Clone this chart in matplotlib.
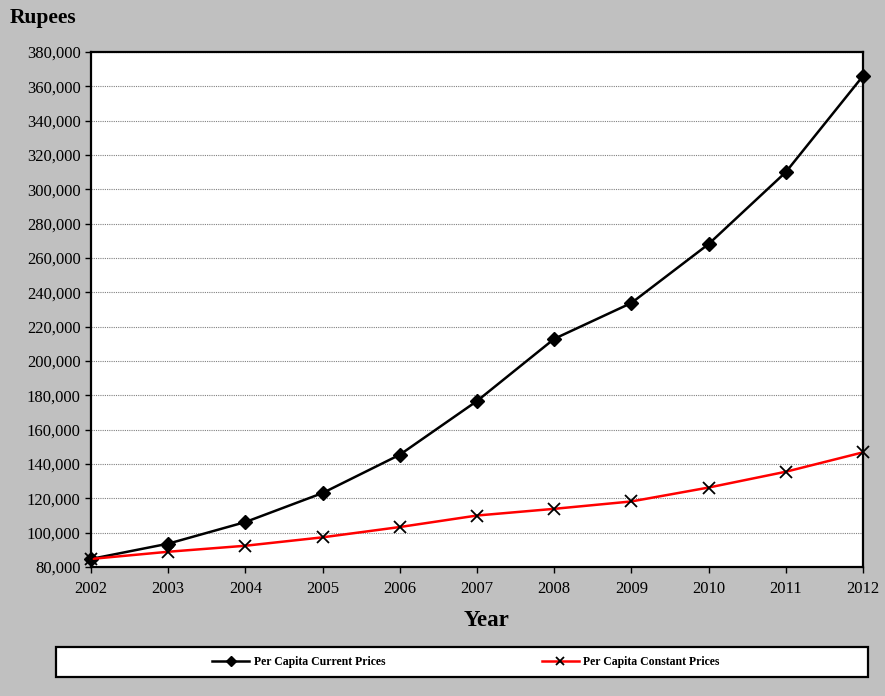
import matplotlib
matplotlib.use('Agg')
import matplotlib.pyplot as plt
from matplotlib.patches import Rectangle
from matplotlib.ticker import FuncFormatter

years = [2002, 2003, 2004, 2005, 2006, 2007, 2008, 2009, 2010, 2011, 2012]
current_prices = [84700, 93600, 106200, 123100, 145400, 176700, 212900, 233800, 268100, 310000, 366000]
constant_prices = [84700, 88900, 92400, 97300, 103300, 110000, 113900, 118200, 126300, 135500, 146800]

plt.rcParams['font.family'] = ['Liberation Serif', 'DejaVu Serif']

bg = '#c0c0c0'
fig = plt.figure(figsize=(8.85, 6.96), dpi=100, facecolor=bg)
ax = fig.add_axes([0.1028, 0.1853, 0.8723, 0.74])
ax.set_facecolor('white')

ax.plot(years, current_prices, color='black', lw=1.8, marker='D', markersize=7,
        markerfacecolor='black', markeredgecolor='black', label='Per Capita Current Prices',
        zorder=3, clip_on=False)
ax.plot(years, constant_prices, color='red', lw=1.8, marker='x', markersize=9,
        markeredgecolor='black', markeredgewidth=1.3, label='Per Capita Constant Prices',
        zorder=3, clip_on=False)

ax.set_xlim(2002, 2012)
ax.set_ylim(80000, 380000)
ax.set_xticks(years)
ax.set_yticks(range(80000, 380001, 20000))
ax.yaxis.set_major_formatter(FuncFormatter(lambda v, p: f"{int(v):,}"))
ax.tick_params(axis='both', labelsize=12, direction='out', length=4, width=1, color='black')
ax.tick_params(axis='x', pad=6)
ax.grid(axis='y', color='#808080', linestyle=(0, (1, 1)), lw=0.8)
for s in ax.spines.values():
    s.set_linewidth(1.6)
    s.set_color('black')

fig.text(10 / 885, 1 - 18 / 696, 'Rupees', fontsize=15.5, fontweight='bold', va='center', ha='left')
fig.text(487 / 885, 1 - 621 / 696, 'Year', fontsize=16.5, fontweight='bold', va='center', ha='center')

# legend box
fig.patches.append(Rectangle((56 / 885, 1 - 677 / 696), 812 / 885, 30 / 696,
                             transform=fig.transFigure, facecolor='white',
                             edgecolor='black', lw=1.6, zorder=1))
handles, labels = ax.get_legend_handles_labels()
leg = fig.legend(handles, labels, loc='center', bbox_to_anchor=(466 / 885, 1 - 662 / 696),
                 ncol=2, frameon=False, prop={'size': 8.5, 'weight': 'bold'},
                 handlelength=3.1, columnspacing=13.3, markerscale=0.7, handletextpad=0.4)
leg.set_zorder(2)

fig.savefig('out.png', dpi=100, facecolor=bg)
